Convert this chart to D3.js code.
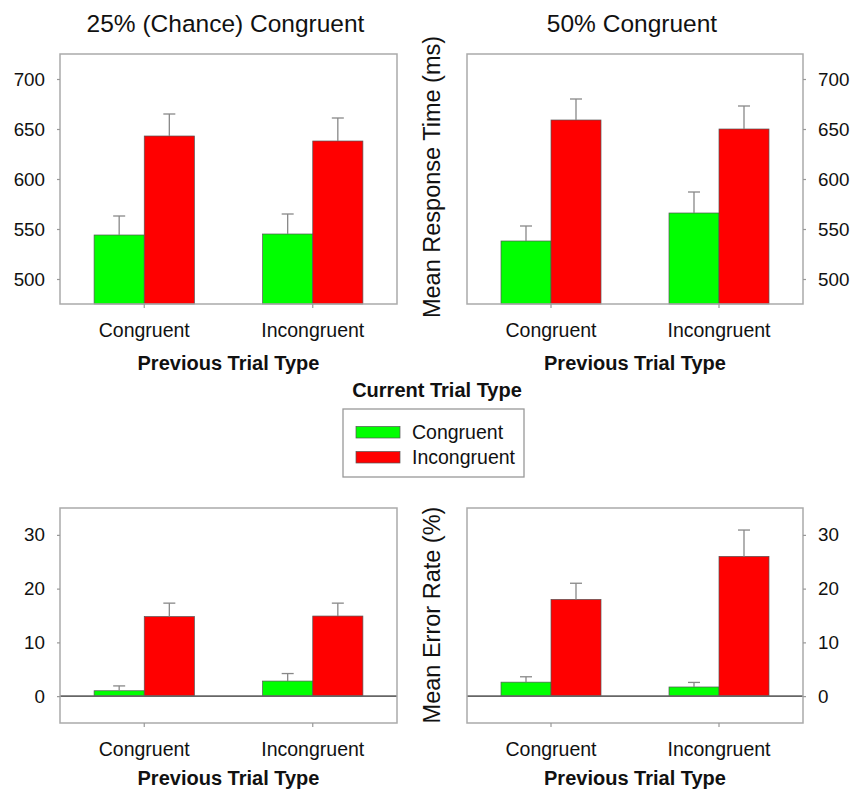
<!DOCTYPE html>
<html>
<head>
<meta charset="utf-8">
<script src="https://cdn.jsdelivr.net/npm/d3@7"></script>
<style>
  html, body { margin: 0; padding: 0; background: #fff; }
  svg text { font-family: "Liberation Sans", Arial, sans-serif; fill: #111; }
</style>
</head>
<body>
<svg id="chart" width="860" height="789"></svg>
<script>
// ---- Data ----
const previousTrialTypes = ["Congruent", "Incongruent"];
const currentTrialTypes = ["Congruent", "Incongruent"];
const seriesColors = ["#00ff00", "#ff0000"];

// Response time (ms): [prev Congruent, prev Incongruent]
const rt25Congruent = [544, 545];
const rt25Incongruent = [643, 638];
const rt25CongruentSE = [19, 20];
const rt25IncongruentSE = [22, 23];

const rt50Congruent = [538, 566];
const rt50Incongruent = [659, 650];
const rt50CongruentSE = [15, 21];
const rt50IncongruentSE = [21, 23];

// Error rate (%)
const er25Congruent = [1.0, 2.8];
const er25Incongruent = [14.8, 14.9];
const er25CongruentSE = [0.9, 1.4];
const er25IncongruentSE = [2.5, 2.4];

const er50Congruent = [2.6, 1.7];
const er50Incongruent = [18.0, 26.0];
const er50CongruentSE = [1.0, 0.85];
const er50IncongruentSE = [3.0, 4.9];

const rtTicks = [500, 550, 600, 650, 700];
const erTicks = [0, 10, 20, 30];
const rtDomain = [475, 725];
const erDomain = [-5, 35];

const titles = ["25% (Chance) Congruent", "50% Congruent"];
const xAxisTitle = "Previous Trial Type";
const rtAxisTitle = "Mean Response Time (ms)";
const erAxisTitle = "Mean Error Rate (%)";
const legendTitle = "Current Trial Type";

// ---- Drawing ----
const svg = d3.select("#chart");
const FONT = "Liberation Sans, Arial, sans-serif";

function panel(opts) {
  const { x0, x1, y0, y1, domain, ticks, side, means, ses, zeroLine } = opts;
  const g = svg.append("g");
  const x = d3.scaleBand().domain(previousTrialTypes).range([x0, x1]).paddingInner(0).paddingOuter(0);
  const xs = d3.scaleBand().domain(currentTrialTypes).range([0, x.bandwidth()]).paddingInner(0).paddingOuter(0.68);
  const y = d3.scaleLinear().domain(domain).range([y1, y0]);

  const rows = [];
  previousTrialTypes.forEach((p, i) => {
    currentTrialTypes.forEach((c, j) => {
      rows.push({ p, c, j, v: means[j][i], se: ses[j][i] });
    });
  });

  const base = domain[0] < 0 ? 0 : domain[0];
  g.selectAll("rect.bar").data(rows).join("rect")
    .attr("class", "bar")
    .attr("x", d => x(d.p) + xs(d.c))
    .attr("width", xs.bandwidth())
    .attr("y", d => y(d.v))
    .attr("height", d => y(base) - y(d.v))
    .attr("fill", d => seriesColors[d.j])
    .attr("stroke", "#555")
    .attr("stroke-width", 0.7);

  // error bars (upper only)
  const cx = d => x(d.p) + xs(d.c) + xs.bandwidth() / 2;
  const eb = g.selectAll("g.eb").data(rows).join("g").attr("class", "eb");
  eb.append("line")
    .attr("x1", cx).attr("x2", cx)
    .attr("y1", d => y(d.v))
    .attr("y2", d => y(d.v + d.se))
    .attr("stroke", "#888").attr("stroke-width", 1.3);
  eb.append("line")
    .attr("x1", d => cx(d) - 6).attr("x2", d => cx(d) + 6)
    .attr("y1", d => y(d.v + d.se))
    .attr("y2", d => y(d.v + d.se))
    .attr("stroke", "#888").attr("stroke-width", 1.3);

  if (zeroLine) {
    g.append("line")
      .attr("x1", x0).attr("x2", x1)
      .attr("y1", y(0)).attr("y2", y(0))
      .attr("stroke", "#666").attr("stroke-width", 1.6);
  }

  // frame
  g.append("rect")
    .attr("x", x0).attr("y", y0)
    .attr("width", x1 - x0).attr("height", y1 - y0)
    .attr("fill", "none").attr("stroke", "#aaa").attr("stroke-width", 1.5);

  // y axis
  const yAxis = (side === "left" ? d3.axisLeft(y) : d3.axisRight(y))
    .tickValues(ticks).tickSize(3).tickPadding(12).tickFormat(d3.format("d"));
  const ya = g.append("g")
    .attr("transform", `translate(${side === "left" ? x0 : x1},0)`)
    .call(yAxis);
  ya.select(".domain").remove();
  ya.selectAll(".tick line").attr("stroke", "#999").attr("stroke-width", 1.2);
  ya.selectAll(".tick text").attr("font-size", 18.8).attr("fill", "#111").attr("font-family", FONT);

  // x axis
  const xAxis = d3.axisBottom(x).tickSize(4).tickPadding(15);
  const xa = g.append("g").attr("transform", `translate(0,${y1})`).call(xAxis);
  xa.select(".domain").remove();
  xa.selectAll(".tick line").attr("stroke", "#999").attr("stroke-width", 1.2);
  xa.selectAll(".tick text").attr("font-size", 19.5).attr("fill", "#111").attr("font-family", FONT);

  // x title
  g.append("text")
    .attr("x", (x0 + x1) / 2).attr("y", y1 + opts.xTitleOffset)
    .attr("text-anchor", "middle")
    .attr("font-size", 20).attr("font-weight", "bold")
    .text(xAxisTitle);

  if (opts.title) {
    g.append("text")
      .attr("x", (x0 + x1) / 2 - 3).attr("y", 32)
      .attr("text-anchor", "middle")
      .attr("font-size", 24.5)
      .text(opts.title);
  }
  return y;
}

panel({ x0: 60, x1: 397, y0: 54, y1: 304, domain: rtDomain, ticks: rtTicks, side: "left",
  means: [rt25Congruent, rt25Incongruent], ses: [rt25CongruentSE, rt25IncongruentSE],
  title: titles[0], xTitleOffset: 66 });
panel({ x0: 467, x1: 803, y0: 54, y1: 304, domain: rtDomain, ticks: rtTicks, side: "right",
  means: [rt50Congruent, rt50Incongruent], ses: [rt50CongruentSE, rt50IncongruentSE],
  title: titles[1], xTitleOffset: 66 });
panel({ x0: 60, x1: 397, y0: 508, y1: 723, domain: erDomain, ticks: erTicks, side: "left",
  means: [er25Congruent, er25Incongruent], ses: [er25CongruentSE, er25IncongruentSE],
  zeroLine: true, xTitleOffset: 62 });
panel({ x0: 467, x1: 803, y0: 508, y1: 723, domain: erDomain, ticks: erTicks, side: "right",
  means: [er50Congruent, er50Incongruent], ses: [er50CongruentSE, er50IncongruentSE],
  zeroLine: true, xTitleOffset: 62 });

// y axis titles
svg.append("text")
  .attr("transform", "translate(440,177) rotate(-90)")
  .attr("text-anchor", "middle").attr("font-size", 23.5)
  .text(rtAxisTitle);
svg.append("text")
  .attr("transform", "translate(440,615) rotate(-90)")
  .attr("text-anchor", "middle").attr("font-size", 23.5)
  .text(erAxisTitle);

// legend
svg.append("text")
  .attr("x", 437).attr("y", 397)
  .attr("text-anchor", "middle").attr("font-size", 20).attr("font-weight", "bold")
  .text(legendTitle);
svg.append("rect")
  .attr("x", 343).attr("y", 409).attr("width", 181).attr("height", 68)
  .attr("fill", "#fff").attr("stroke", "#999").attr("stroke-width", 1.3);
const legendY = d3.scalePoint().domain(currentTrialTypes).range([426.5, 451.5]);
const li = svg.selectAll("g.legend-item").data(currentTrialTypes).join("g").attr("class", "legend-item");
li.append("rect")
  .attr("x", 356).attr("y", d => legendY(d))
  .attr("width", 44).attr("height", 11.5)
  .attr("fill", (d, i) => seriesColors[i])
  .attr("stroke", "#555").attr("stroke-width", 0.7);
li.append("text")
  .attr("x", 412).attr("y", d => legendY(d) + 12.5)
  .attr("font-size", 19.5)
  .text(d => d);
</script>
</body>
</html>
